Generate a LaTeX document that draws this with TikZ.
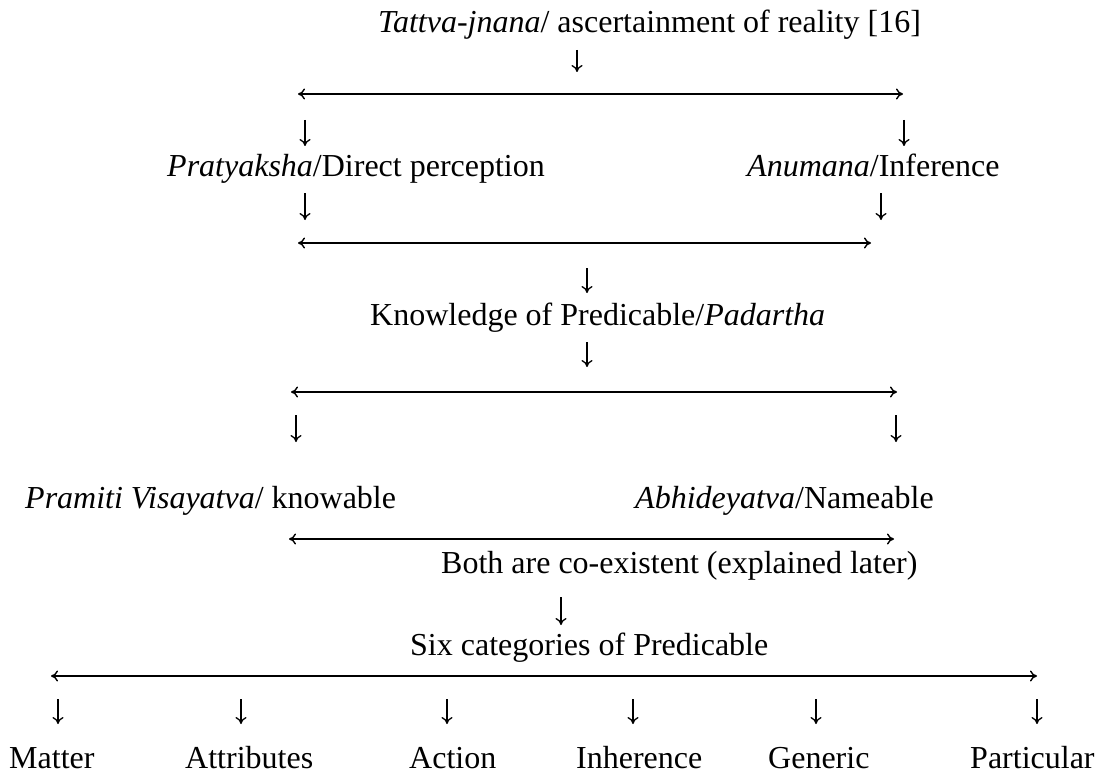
\documentclass[tikz,border=0pt]{standalone}
\usepackage{fontspec}
\setmainfont{Liberation Serif}
\usetikzlibrary{arrows.meta}
\begin{document}
\begin{tikzpicture}[x=1pt,y=-1pt,
  lbl/.style={inner sep=0pt, anchor=base west, font=\fontsize{32}{38}\selectfont},
  dn/.style={line width=1.3pt, -{To[length=7pt,width=11pt]}},
  hz/.style={line width=1.4pt, {To[length=7pt,width=11pt]}-{To[length=7pt,width=11pt]}}]
\useasboundingbox (0,0) rectangle (1106,773);
% texts
\node[lbl] (title) at (378,33) {\textit{Tattva-jnana}/ ascertainment of reality [16]};
\node[lbl] (prat) at (167,177) {\textit{Pratyaksha}/Direct perception};
\node[lbl] (anum) at (747,177) {\textit{Anumana}/Inference};
\node[lbl] (know) at (370,325) {Knowledge of Predicable/\textit{Padartha}};
\node[lbl] (pram) at (25,508) {\textit{Pramiti Visayatva}/ knowable};
\node[lbl] (abhi) at (635,508) {\textit{Abhideyatva}/Nameable};
\node[lbl] (both) at (441,573) {Both are co-existent (explained later)};
\node[lbl] (six) at (410,655) {Six categories of Predicable};
\node[lbl] (matter) at (9,768) {Matter};
\node[lbl] (attr) at (185,768) {Attributes};
\node[lbl] (action) at (409,768) {Action};
\node[lbl] (inher) at (576,768) {Inherence};
\node[lbl] (gener) at (768,768) {Generic};
\node[lbl] (partic) at (970,768) {Particular};
% arrow end points
\coordinate (a1s) at (577,50);  \coordinate (a1e) at (577,72);
\coordinate (h1l) at (298,94);  \coordinate (h1r) at (903,94);
\coordinate (l1s) at (305,120); \coordinate (l1e) at (305,146);
\coordinate (r1s) at (904,120); \coordinate (r1e) at (904,146);
\coordinate (l2s) at (305,193); \coordinate (l2e) at (305,220);
\coordinate (r2s) at (881,193); \coordinate (r2e) at (881,220);
\coordinate (h2l) at (298,243); \coordinate (h2r) at (871,243);
\coordinate (a3s) at (587,268); \coordinate (a3e) at (587,293);
\coordinate (a4s) at (587,342); \coordinate (a4e) at (587,367);
\coordinate (h3l) at (291,392); \coordinate (h3r) at (897,392);
\coordinate (l3s) at (296,415); \coordinate (l3e) at (296,442);
\coordinate (r3s) at (896,415); \coordinate (r3e) at (896,442);
\coordinate (h4l) at (289,539); \coordinate (h4r) at (894,539);
\coordinate (a5s) at (561,597); \coordinate (a5e) at (561,625);
\coordinate (h5l) at (51,676);  \coordinate (h5r) at (1037,676);
\foreach \n/\x in {b1/58,b2/241,b3/447,b4/633,b5/816,b6/1037}{
  \coordinate (\n s) at (\x,699); \coordinate (\n e) at (\x,724);
}
% arrows
\draw[dn] (a1s) -- (a1e);
\draw[hz] (h1l) -- (h1r);
\draw[dn] (l1s) -- (l1e);
\draw[dn] (r1s) -- (r1e);
\draw[dn] (l2s) -- (l2e);
\draw[dn] (r2s) -- (r2e);
\draw[hz] (h2l) -- (h2r);
\draw[dn] (a3s) -- (a3e);
\draw[dn] (a4s) -- (a4e);
\draw[hz] (h3l) -- (h3r);
\draw[dn] (l3s) -- (l3e);
\draw[dn] (r3s) -- (r3e);
\draw[hz] (h4l) -- (h4r);
\draw[dn] (a5s) -- (a5e);
\draw[hz] (h5l) -- (h5r);
\foreach \n in {b1,b2,b3,b4,b5,b6}{ \draw[dn] (\n s) -- (\n e); }
\end{tikzpicture}
\end{document}
